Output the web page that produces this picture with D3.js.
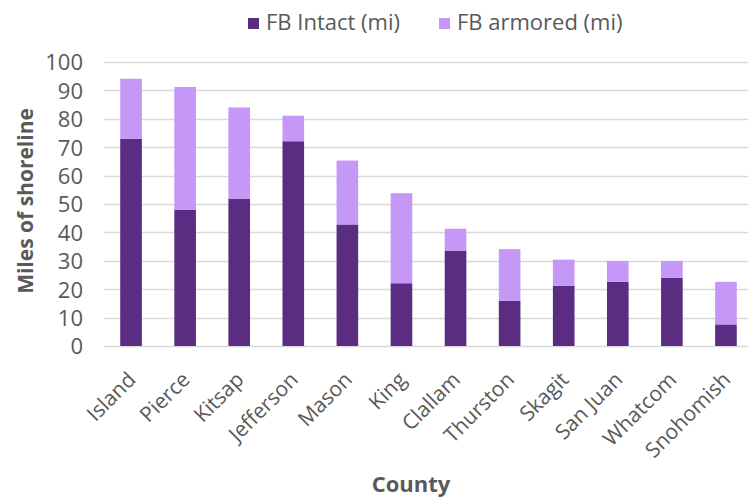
<!DOCTYPE html>
<html>
<head>
<meta charset="utf-8">
<script src="https://cdn.jsdelivr.net/npm/d3@7"></script>
<style>
  html, body { margin: 0; padding: 0; background: #fff; }
  svg { display: block; font-family: "Open Sans", "Noto Sans", sans-serif; }
</style>
</head>
<body>
<svg id="chart" width="748" height="500"></svg>
<script>
// Feeder-bluff shoreline by county, intact vs. armored miles
const counties = ["Island", "Pierce", "Kitsap", "Jefferson", "Mason", "King",
  "Clallam", "Thurston", "Skagit", "San Juan", "Whatcom", "Snohomish"];
const intactMiles  = [73.0, 48.0, 51.9, 72.1, 42.8, 22.1, 33.6, 15.9, 21.2, 22.6, 24.0, 7.6];
const armoredMiles = [21.1, 43.2, 32.1, 9.0, 22.5, 31.7, 7.7, 18.2, 9.2, 7.3, 5.9, 15.0];
const seriesNames = ["FB Intact (mi)", "FB armored (mi)"];
const seriesColors = ["#5a2d82", "#c597f6"];
const yTicks = [0, 10, 20, 30, 40, 50, 60, 70, 80, 90, 100];

const svg = d3.select("#chart");
const plot = { left: 104, right: 753, top: 62, bottom: 346 };
const textColor = "#595959";

const rows = counties.map((c, i) => ({ county: c, intact: intactMiles[i], armored: armoredMiles[i] }));
const stack = d3.stack().keys(["intact", "armored"])(rows);

const x = d3.scaleBand().domain(counties).range([plot.left, plot.right]).paddingInner(0.6).paddingOuter(0.3);
const y = d3.scaleLinear().domain([0, 100]).range([plot.bottom, plot.top]);

// horizontal gridlines
svg.append("g")
  .selectAll("line")
  .data(yTicks)
  .join("line")
  .attr("x1", plot.left).attr("x2", plot.right)
  .attr("y1", d => Math.round(y(d)) + 0.5).attr("y2", d => Math.round(y(d)) + 0.5)
  .attr("stroke", "#d9d9d9").attr("stroke-width", 1.3);

// y axis tick labels
const yAxis = svg.append("g")
  .attr("transform", `translate(${plot.left},0)`)
  .call(d3.axisLeft(y).tickValues(yTicks).tickSize(0).tickPadding(21));
yAxis.select(".domain").remove();
yAxis.selectAll("text")
  .attr("fill", textColor).attr("font-size", 22)
  .attr("font-family", "'Open Sans', sans-serif")
  .attr("dy", "0.36em");

// stacked bars
svg.append("g")
  .selectAll("g")
  .data(stack)
  .join("g")
  .attr("fill", (d, i) => seriesColors[i])
  .selectAll("rect")
  .data(d => d)
  .join("rect")
  .attr("x", d => x(d.data.county))
  .attr("width", x.bandwidth())
  .attr("y", d => y(d[1]))
  .attr("height", d => y(d[0]) - y(d[1]));

// x axis category labels, rotated
const xAxis = svg.append("g")
  .attr("transform", `translate(0,${plot.bottom})`)
  .call(d3.axisBottom(x).tickSize(0).tickPadding(0));
xAxis.select(".domain").remove();
xAxis.selectAll("text")
  .attr("fill", textColor).attr("font-size", 21)
  .attr("font-family", "'Open Sans', sans-serif")
  .attr("text-anchor", "end")
  .attr("x", 0).attr("y", 0).attr("dy", null)
  .attr("transform", "translate(6,35) rotate(-45)");

// axis titles
svg.append("text")
  .attr("transform", `translate(33,201) rotate(-90)`)
  .attr("text-anchor", "middle")
  .attr("fill", textColor).attr("font-size", 21).attr("font-weight", "bold")
  .text("Miles of shoreline");

svg.append("text")
  .attr("x", 411).attr("y", 492)
  .attr("text-anchor", "middle")
  .attr("fill", textColor).attr("font-size", 22).attr("font-weight", "bold")
  .text("County");

// legend
const legendX = [248, 439];
const legend = svg.append("g")
  .selectAll("g")
  .data(seriesNames)
  .join("g")
  .attr("transform", (d, i) => `translate(${legendX[i]},0)`);
legend.append("rect")
  .attr("x", 0).attr("y", 18).attr("width", 11).attr("height", 11)
  .attr("fill", (d, i) => seriesColors[i]);
legend.append("text")
  .attr("x", 18).attr("y", 30)
  .attr("fill", textColor).attr("font-size", 22)
  .text(d => d);
</script>
</body>
</html>
